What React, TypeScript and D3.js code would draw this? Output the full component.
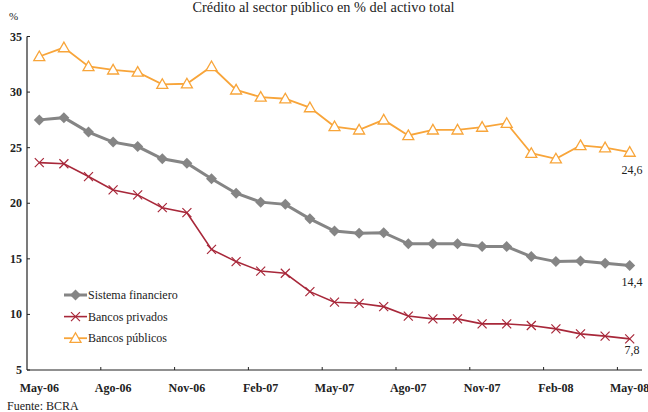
import React from 'react';
import * as d3 from 'd3';

// Data
const months = [
  'May-06', 'Jun-06', 'Jul-06', 'Ago-06', 'Sep-06', 'Oct-06', 'Nov-06', 'Dic-06', 'Ene-07',
  'Feb-07', 'Mar-07', 'Abr-07', 'May-07', 'Jun-07', 'Jul-07', 'Ago-07', 'Sep-07', 'Oct-07',
  'Nov-07', 'Dic-07', 'Ene-08', 'Feb-08', 'Mar-08', 'Abr-08', 'May-08',
];
const sistemaFinanciero = [
  27.5, 27.7, 26.4, 25.5, 25.1, 24.0, 23.6, 22.2, 20.9, 20.1, 19.9, 18.6, 17.5,
  17.3, 17.35, 16.35, 16.35, 16.35, 16.1, 16.1, 15.2, 14.75, 14.8, 14.6, 14.4,
];
const bancosPrivados = [
  23.65, 23.55, 22.4, 21.2, 20.75, 19.6, 19.15, 15.85, 14.75, 13.9, 13.7, 12.05, 11.1,
  11.0, 10.7, 9.85, 9.6, 9.6, 9.15, 9.15, 9.0, 8.7, 8.25, 8.05, 7.8,
];
const bancosPublicos = [
  33.2, 34.0, 32.3, 32.0, 31.8, 30.7, 30.75, 32.3, 30.2, 29.55, 29.4, 28.6, 26.9,
  26.6, 27.5, 26.1, 26.6, 26.6, 26.85, 27.2, 24.5, 24.0, 25.2, 25.0, 24.6,
];
const yTicks = [5, 10, 15, 20, 25, 30, 35];
const xLabels = ['May-06', 'Ago-06', 'Nov-06', 'Feb-07', 'May-07', 'Ago-07', 'Nov-07', 'Feb-08', 'May-08'];

const W = 648, H = 412;
const margin = { left: 27, right: 6, top: 36.5, bottom: 42 };
const FONT = '"Liberation Serif", "DejaVu Serif", serif';

const x = d3.scaleBand<string>().domain(months).range([margin.left, W - margin.right]);
const y = d3.scaleLinear().domain([5, 35]).range([H - margin.bottom, margin.top]);
const cx = (m: string) => (x(m) as number) + x.bandwidth() / 2;

const series = [
  { name: 'Sistema financiero', values: sistemaFinanciero, color: '#858585', width: 3, marker: 'diamond' },
  { name: 'Bancos privados', values: bancosPrivados, color: '#a8283a', width: 1.6, marker: 'x' },
  { name: 'Bancos públicos', values: bancosPublicos, color: '#f8a53a', width: 1.8, marker: 'triangle' },
];

const Marker = ({ kind, px, py, color }: { kind: string; px: number; py: number; color: string }) => {
  if (kind === 'diamond') {
    const s = 5.5;
    return <path d={`M${px},${py - s}L${px + s},${py}L${px},${py + s}L${px - s},${py}Z`} fill={color} />;
  }
  if (kind === 'x') {
    const s = 4.5;
    return (
      <path d={`M${px - s},${py - s}L${px + s},${py + s}M${px - s},${py + s}L${px + s},${py - s}`}
        stroke={color} strokeWidth={1.2} fill="none" />
    );
  }
  const s = 5.5;
  return (
    <path d={`M${px},${py - s}L${px + s},${py + s * 0.75}L${px - s},${py + s * 0.75}Z`}
      fill="#fff" stroke={color} strokeWidth={1.3} />
  );
};

export default function App() {
  const line = d3.line<number>().x((_, i) => cx(months[i])).y(d => y(d));
  const x0 = margin.left, y0 = H - margin.bottom;
  const x1 = W - margin.right;

  return (
    <svg width={W} height={H} style={{ position: 'absolute', left: 0, top: 0, background: '#fff' }}
      fontFamily={FONT}>
      <text x={323.5} y={12} textAnchor="middle" fontSize={14.3} fill="#222">
        Crédito al sector público en % del activo total
      </text>
      <text x={9} y={20} fontSize={11} fill="#222">%</text>

      {/* axes */}
      <line x1={x0} y1={margin.top} x2={x0} y2={y0} stroke="#222" strokeWidth={1.2} />
      <line x1={x0} y1={y0} x2={x1} y2={y0} stroke="#222" strokeWidth={1.2} />
      {yTicks.map(t => (
        <g key={t}>
          <line x1={x0} x2={x0 + 3} y1={y(t)} y2={y(t)} stroke="#222" strokeWidth={1} />
          <text x={22} y={y(t) + 4} textAnchor="end" fontSize={12} fontWeight="bold" fill="#222">{t}</text>
        </g>
      ))}
      {months.map((m, i) => (i % 3 === 0 && i > 0 ? (
        <line key={m} x1={x(m)} x2={x(m)} y1={y0} y2={y0 - 3} stroke="#222" strokeWidth={1} />
      ) : null))}
      {xLabels.map(m => (
        <text key={m} x={cx(m)} y={392} textAnchor="middle" fontSize={12} fontWeight="bold" fill="#222">{m}</text>
      ))}

      {/* series */}
      {series.map(s => (
        <g key={s.name}>
          <path d={line(s.values) as string} fill="none" stroke={s.color} strokeWidth={s.width} />
          {s.values.map((v, i) => (
            <Marker key={i} kind={s.marker} px={cx(months[i])} py={y(v)} color={s.color} />
          ))}
        </g>
      ))}

      {/* end labels */}
      <text x={632} y={174} textAnchor="middle" fontSize={12} fill="#222">24,6</text>
      <text x={632} y={286} textAnchor="middle" fontSize={12} fill="#222">14,4</text>
      <text x={632} y={354} textAnchor="middle" fontSize={12} fill="#222">7,8</text>

      {/* legend */}
      {series.map((s, i) => {
        const ly = 295 + i * 21.6;
        return (
          <g key={s.name}>
            <line x1={64} x2={87} y1={ly} y2={ly} stroke={s.color} strokeWidth={s.width} />
            <Marker kind={s.marker} px={75.5} py={ly} color={s.color} />
            <text x={88} y={ly + 4} fontSize={12} fill="#222">{s.name}</text>
          </g>
        );
      })}

      <text x={7} y={410} fontSize={12} fill="#222">Fuente: BCRA</text>
    </svg>
  );
}
